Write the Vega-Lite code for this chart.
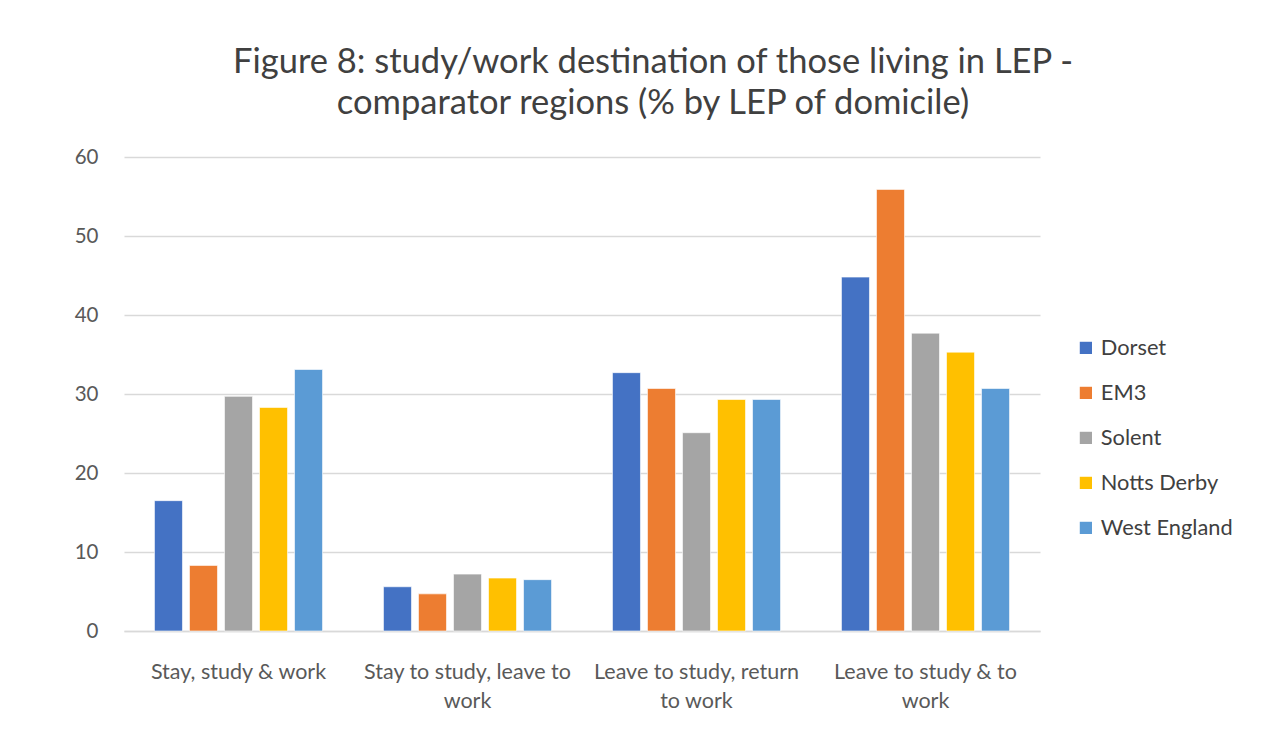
{
  "$schema": "https://vega.github.io/schema/vega-lite/v6.json",
  "autosize": {"type": "none"},
  "width": 916,
  "height": 474,
  "padding": {"left": 124, "top": 157, "right": 247, "bottom": 107},
  "background": "white",
  "title": {
    "text": ["Figure 8: study/work destination of those living in LEP -", "comparator regions (% by LEP of domicile)"],
    "anchor": "middle",
    "frame": "group",
    "dx": 71,
    "offset": 26,
    "fontSize": 34.5,
    "lineHeight": 41,
    "font": "Lato",
    "fontWeight": "normal",
    "color": "#404040"
  },
  "data": {
    "values": [
      {"cat": "Stay, study & work", "lep": "Dorset", "v": 16.5},
      {"cat": "Stay, study & work", "lep": "EM3", "v": 8.3},
      {"cat": "Stay, study & work", "lep": "Solent", "v": 29.7},
      {"cat": "Stay, study & work", "lep": "Notts Derby", "v": 28.3},
      {"cat": "Stay, study & work", "lep": "West England", "v": 33.1},
      {"cat": "Stay to study, leave to work", "lep": "Dorset", "v": 5.6},
      {"cat": "Stay to study, leave to work", "lep": "EM3", "v": 4.7},
      {"cat": "Stay to study, leave to work", "lep": "Solent", "v": 7.2},
      {"cat": "Stay to study, leave to work", "lep": "Notts Derby", "v": 6.7},
      {"cat": "Stay to study, leave to work", "lep": "West England", "v": 6.5},
      {"cat": "Leave to study, return to work", "lep": "Dorset", "v": 32.7},
      {"cat": "Leave to study, return to work", "lep": "EM3", "v": 30.7},
      {"cat": "Leave to study, return to work", "lep": "Solent", "v": 25.1},
      {"cat": "Leave to study, return to work", "lep": "Notts Derby", "v": 29.3},
      {"cat": "Leave to study, return to work", "lep": "West England", "v": 29.3},
      {"cat": "Leave to study & to work", "lep": "Dorset", "v": 44.8},
      {"cat": "Leave to study & to work", "lep": "EM3", "v": 55.9},
      {"cat": "Leave to study & to work", "lep": "Solent", "v": 37.7},
      {"cat": "Leave to study & to work", "lep": "Notts Derby", "v": 35.3},
      {"cat": "Leave to study & to work", "lep": "West England", "v": 30.7}
    ]
  },
  "mark": {"type": "bar", "stroke": "white", "strokeWidth": 1, "strokeOpacity": 0.6},
  "encoding": {
    "x": {
      "field": "cat",
      "type": "nominal",
      "sort": ["Stay, study & work", "Stay to study, leave to work", "Leave to study, return to work", "Leave to study & to work"],
      "scale": {"paddingInner": 0.266, "paddingOuter": 0.133},
      "axis": {
        "title": null,
        "labelAngle": 0,
        "ticks": false,
        "domain": true,
        "domainColor": "#d9d9d9",
        "domainWidth": 1.5,
        "labelFont": "Lato",
        "labelFontSize": 21.5,
        "labelColor": "#595959",
        "labelPadding": 41,
        "labelBaseline": "middle",
        "labelLineHeight": 29,
        "labelLimit": 300,
        "labelExpr": "datum.value == 'Stay to study, leave to work' ? ['Stay to study, leave to', 'work'] : datum.value == 'Leave to study, return to work' ? ['Leave to study, return', 'to work'] : datum.value == 'Leave to study & to work' ? ['Leave to study & to', 'work'] : datum.value"
      }
    },
    "xOffset": {
      "field": "lep",
      "type": "nominal",
      "sort": ["Dorset", "EM3", "Solent", "Notts Derby", "West England"],
      "scale": {"paddingInner": 0.2, "paddingOuter": 0}
    },
    "y": {
      "field": "v",
      "type": "quantitative",
      "scale": {"domain": [0, 60]},
      "axis": {
        "title": null,
        "values": [0, 10, 20, 30, 40, 50, 60],
        "labelOverlap": false,
        "ticks": false,
        "domain": false,
        "gridColor": "#d9d9d9",
        "gridWidth": 1.5,
        "labelFont": "Lato",
        "labelFontSize": 20.5,
        "labelColor": "#595959",
        "labelPadding": 26
      }
    },
    "color": {
      "field": "lep",
      "type": "nominal",
      "sort": ["Dorset", "EM3", "Solent", "Notts Derby", "West England"],
      "scale": {"domain": ["Dorset", "EM3", "Solent", "Notts Derby", "West England"], "range": ["#4472C4", "#ED7D31", "#A5A5A5", "#FFC000", "#5B9BD5"]},
      "legend": {
        "title": null,
        "orient": "none",
        "legendX": 951,
        "legendY": 180,
        "symbolType": "square",
        "symbolSize": 150,
        "symbolStrokeWidth": 0,
        "labelFont": "Lato",
        "labelFontSize": 21.8,
        "labelColor": "#404040",
        "labelOffset": 4,
        "rowPadding": 22,
        "labelLimit": 300
      }
    }
  },
  "config": {"view": {"stroke": null}}
}
